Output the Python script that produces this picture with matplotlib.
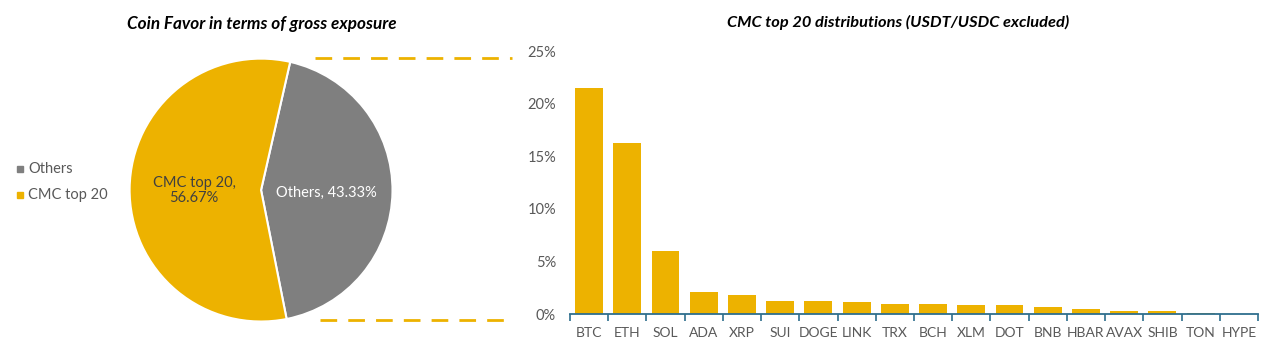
import matplotlib.pyplot as plt
from matplotlib.lines import Line2D
from matplotlib.patches import Rectangle

plt.rcParams['font.family'] = ['Lato', 'DejaVu Sans']

# pie data
pie_labels = ['Others', 'CMC top 20']
pie_values = [43.33, 56.67]

# bar data (% of CMC top 20 exposure)
coins = ['BTC', 'ETH', 'SOL', 'ADA', 'XRP', 'SUI', 'DOGE', 'LINK', 'TRX', 'BCH',
         'XLM', 'DOT', 'BNB', 'HBAR', 'AVAX', 'SHIB', 'TON', 'HYPE']
shares = [21.5, 16.3, 6.0, 2.05, 1.85, 1.28, 1.22, 1.15, 1.0, 0.95,
          0.82, 0.82, 0.68, 0.45, 0.26, 0.26, 0.12, 0.02]
yticks = [0, 5, 10, 15, 20, 25]

gold = '#EDB200'
grey = '#7F7F7F'
txt = '#595959'
axis_blue = '#2E6E8E'

fig = plt.figure(figsize=(12.8, 3.51), dpi=100)

## pie
ax1 = fig.add_axes([0.1012, 0.084, 0.2055, 0.749])
wedges, _ = ax1.pie(pie_values, colors=[grey, gold], startangle=77.2,
                    counterclock=False, radius=1,
                    wedgeprops=dict(edgecolor='white', linewidth=1.5))
ax1.set_xlim(-1, 1)
ax1.set_ylim(-1, 1)
ax1.set_aspect('equal')
ax1.text(0.50, -0.02, 'Others, %.2f%%' % pie_values[0], color='white',
         ha='center', va='center', fontsize=10.5)
ax1.text(-0.51, 0.0, 'CMC top 20,\n%.2f%%' % pie_values[1], color='#404040',
         ha='center', va='center', fontsize=10.5, linespacing=1.1)
fig.text(262 / 1280, 1 - 24 / 351, 'Coin Favor in terms of gross exposure',
         ha='center', va='center', fontsize=12.3, fontweight='bold',
         fontstyle='italic', color='black')

# legend (Excel style, on the left)
for i, (lab, col) in enumerate(zip(pie_labels, [grey, gold])):
    y = 1 - (169 + 26 * i) / 351
    fig.add_artist(Rectangle((17 / 1280, y - 3 / 351), 6 / 1280, 6 / 351,
                             transform=fig.transFigure, color=col))
    fig.text(28 / 1280, y, lab, ha='left', va='center', fontsize=10.5, color=txt)

# dashed connector lines
for (x0, x1, y) in [(315, 512, 58), (320, 514, 320)]:
    fig.add_artist(Line2D([x0 / 1280, x1 / 1280], [1 - y / 351, 1 - y / 351],
                          transform=fig.transFigure, color=gold, lw=2,
                          linestyle=(0, (6, 4))))

## bars
ax2 = fig.add_axes([0.4453, 0.1054, 0.5375, 0.748])
x = list(range(len(coins)))
ax2.bar(x, shares, width=0.73, color=gold, zorder=2)
ax2.set_xlim(-0.5, len(coins) - 0.5)
ax2.set_ylim(0, 25)
ax2.set_yticks(yticks)
ax2.set_yticklabels(['%d%%' % v for v in yticks], color=txt, fontsize=10.5)
ax2.tick_params(axis='y', length=0, pad=10)
ax2.set_xticks(x)
ax2.set_xticklabels(coins, color=txt, fontsize=10)
ax2.tick_params(axis='x', which='major', length=0, pad=9)
ax2.set_xticks([i - 0.5 for i in range(len(coins) + 1)], minor=True)
ax2.tick_params(axis='x', which='minor', length=5, width=1.2, color=axis_blue,
                direction='out')
for s in ['top', 'right', 'left']:
    ax2.spines[s].set_visible(False)
ax2.spines['bottom'].set_color(axis_blue)
ax2.spines['bottom'].set_linewidth(1.3)
fig.text(898 / 1280, 1 - 22 / 351, 'CMC top 20 distributions (USDT/USDC excluded)',
         ha='center', va='center', fontsize=11.8, fontweight='bold',
         fontstyle='italic', color='black')

fig.savefig('out.png', dpi=100)
